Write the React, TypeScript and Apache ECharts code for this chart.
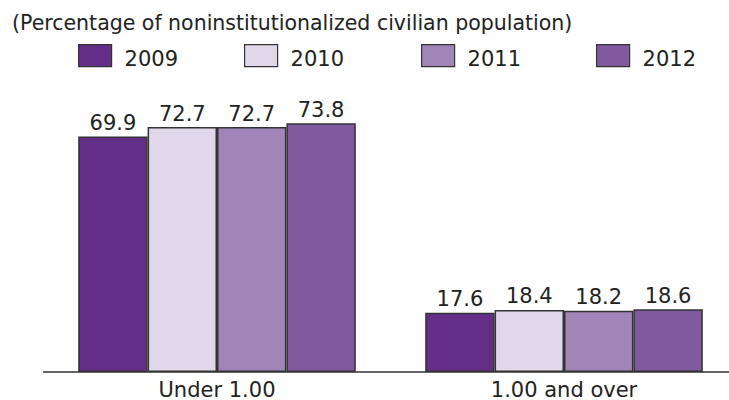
import React, { useEffect, useRef } from "react";
import * as echarts from "echarts";

const categories = ["Under 1.00", "1.00 and over"];
const years = ["2009", "2010", "2011", "2012"];
const values2009 = [69.9, 17.6];
const values2010 = [72.7, 18.4];
const values2011 = [72.7, 18.2];
const values2012 = [73.8, 18.6];
const seriesValues = [values2009, values2010, values2011, values2012];
const colors = ["#642d87", "#e0d8ea", "#a185b8", "#7f5a9e"];
const subtitle = "(Percentage of noninstitutionalized civilian population)";
const legendLefts = [78, 244, 421, 596];

const FONT = "DejaVu Sans";

export default function App() {
  const ref = useRef<HTMLDivElement>(null);
  useEffect(() => {
    if (!ref.current) return;
    const chart = echarts.init(ref.current, null, { renderer: "svg" });
    chart.setOption({
      animation: false,
      backgroundColor: "#ffffff",
      textStyle: { fontFamily: FONT },
      graphic: [
        {
          type: "text",
          x: 12,
          y: 23,
          style: {
            text: subtitle,
            fontSize: 20.5,
            fontFamily: FONT,
            fill: "#222",
            verticalAlign: "middle",
          },
        },
      ],
      legend: years.map((y, i) => ({
        top: 44,
        left: legendLefts[i],
        padding: 0,
        itemWidth: 33,
        itemHeight: 22,
        icon: "rect",
        data: [y],
        selectedMode: false,
        formatter: "{t|{name}}",
        textStyle: {
          fontSize: 21,
          color: "#222",
          fontFamily: FONT,
          padding: [0, 0, 0, 8],
          rich: {
            t: {
              fontSize: 21,
              color: "#222",
              fontFamily: FONT,
              padding: [6, 0, 0, 0],
            },
          },
        },
        itemStyle: { borderColor: "#333", borderWidth: 1.2 },
      })),
      grid: { left: 43.5, right: 7.5, top: 102.4, bottom: 27, containLabel: false },
      xAxis: {
        type: "category",
        data: categories,
        axisLine: { lineStyle: { color: "#333", width: 1.5 } },
        axisTick: { show: false },
        axisLabel: { fontSize: 21, color: "#222", margin: 7, fontFamily: FONT },
      },
      yAxis: {
        type: "value",
        min: 0,
        max: 80,
        show: false,
        splitLine: { show: false },
      },
      series: years.map((y, i) => ({
        name: y,
        type: "bar",
        data: seriesValues[i],
        barGap: "0%",
        barCategoryGap: "20%",
        itemStyle: { color: colors[i], borderColor: "#333", borderWidth: 1.5 },
        label: {
          show: true,
          position: "top",
          distance: 3,
          fontSize: 21,
          color: "#222",
          fontFamily: FONT,
        },
      })),
    });
    return () => chart.dispose();
  }, []);
  return (
    <div
      ref={ref}
      style={{ width: 745, height: 400, position: "fixed", left: 0, top: 0 }}
    />
  );
}
